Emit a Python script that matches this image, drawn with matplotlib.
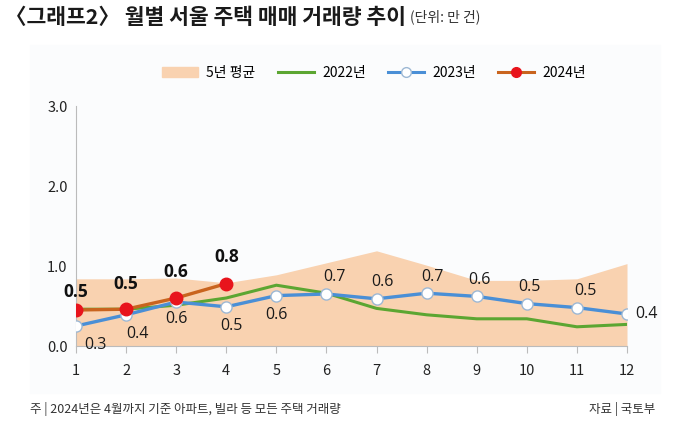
import matplotlib.pyplot as plt
from matplotlib.patches import Patch, Rectangle
from matplotlib.lines import Line2D

plt.rcParams['font.family'] = ['Noto Sans CJK KR', 'DejaVu Sans']

# data (unit: 10k transactions)
months = [1, 2, 3, 4, 5, 6, 7, 8, 9, 10, 11, 12]
avg5 = [0.84, 0.84, 0.85, 0.79, 0.89, 1.04, 1.19, 1.01, 0.82, 0.82, 0.84, 1.03]
y2022 = [0.46, 0.46, 0.51, 0.60, 0.76, 0.66, 0.47, 0.39, 0.34, 0.34, 0.24, 0.27]
y2023 = [0.25, 0.39, 0.55, 0.49, 0.63, 0.65, 0.59, 0.66, 0.62, 0.53, 0.48, 0.40]
m2024 = [1, 2, 3, 4]
y2024 = [0.45, 0.46, 0.60, 0.78]
lab2023 = ['0.3', '0.4', '0.6', '0.5', '0.6', '0.7', '0.6', '0.7', '0.6', '0.5', '0.5', '0.4']
lab2024 = ['0.5', '0.5', '0.6', '0.8']
yticks = [0, 1, 2, 3]
ytick_labels = ['0.0', '1.0', '2.0', '3.0']

c_avg = '#F9D2B0'
c_22 = '#5CA632'
c_23 = '#4A8FD6'
c_24 = '#C9641E'
c_dot = '#E8141C'

fig = plt.figure(figsize=(7, 4.21), dpi=100)
bg = Rectangle((30 / 700, 1 - 393 / 421), 630 / 700, 348 / 421,
               transform=fig.transFigure, color='#FBFCFD', zorder=-5)
fig.add_artist(bg)

ax = fig.add_axes([76 / 700, 1 - 346 / 421, 551 / 700, 240 / 421])
ax.set_zorder(2)
ax.patch.set_alpha(0)

ax.fill_between(months, 0, avg5, color=c_avg, lw=0, zorder=1)
ax.plot(months, y2022, color=c_22, lw=2.2, zorder=2)
ax.plot(months, y2023, color=c_23, lw=2.4, marker='o', ms=8,
        mfc='white', mec='#9DB8D4', mew=1, zorder=3)
ax.plot(m2024, y2024, color=c_24, lw=2.4, marker='o', ms=9,
        mfc=c_dot, mec=c_dot, zorder=4)

# 2023 value labels
offsets = [(14, -14), (8, -14), (0, -12), (4, -14), (0, -14), (6, 12),
           (4, 12), (4, 12), (2, 12), (2, 12), (6, 12), (14, 0)]
for m, v, t, (dx, dy) in zip(months, y2023, lab2023, offsets):
    ax.annotate(t, (m, v), xytext=(dx, dy), textcoords='offset points',
                ha='center', va='center', fontsize=11.5, family=['Open Sans', 'DejaVu Sans'],
                color='#1a1a1a', zorder=5, annotation_clip=False)

# 2024 value labels
offsets24 = [13, 18, 19, 19]
for m, v, t, dy in zip(m2024, y2024, lab2024, offsets24):
    ax.annotate(t, (m, v), xytext=(0, dy), textcoords='offset points',
                ha='center', va='center', fontsize=12.5, fontweight='bold',
                family=['Open Sans', 'DejaVu Sans'], color='#111111', zorder=5,
                annotation_clip=False)

ax.set_xlim(1, 12)
ax.set_ylim(0, 3)
ax.set_xticks(months)
ax.set_yticks(yticks)
ax.set_yticklabels(ytick_labels)
for s in ['top', 'right']:
    ax.spines[s].set_visible(False)
ax.spines['left'].set_color('#BBBBBB')
ax.spines['bottom'].set_color('#BBBBBB')
ax.tick_params(axis='x', length=5, color='#BBBBBB', labelsize=10.5, pad=8, labelcolor='#222222')
ax.tick_params(axis='y', length=0, labelsize=10.5, pad=6, labelcolor='#222222')

handles = [
    Patch(color=c_avg, label='5년 평균'),
    Line2D([], [], color=c_22, lw=2.2, label='2022년'),
    Line2D([], [], color=c_23, lw=2.2, marker='o', ms=7, mfc='white', mec='#9DB8D4', label='2023년'),
    Line2D([], [], color=c_24, lw=2.2, marker='o', ms=7, mfc=c_dot, mec=c_dot, label='2024년'),
]
fig.legend(handles=handles, loc='center', bbox_to_anchor=(374 / 700, 1 - 73 / 421),
           ncol=4, frameon=False, fontsize=10, handlelength=2.6, columnspacing=1.6,
           handletextpad=0.6)

fig.text(5 / 700, 1 - 17 / 421, '〈그래프2〉 월별 서울 주택 매매 거래량 추이',
         fontsize=15.5, fontweight='bold', va='center', ha='left', color='#1a1a1a')
fig.text(410 / 700, 1 - 17 / 421, '(단위: 만 건)', fontsize=10, va='center',
         ha='left', color='#333333')
fig.text(30 / 700, 1 - 409 / 421, '주 | 2024년은 4월까지 기준 아파트, 빌라 등 모든 주택 거래량',
         fontsize=9, va='center', ha='left', color='#333333')
fig.text(655 / 700, 1 - 409 / 421, '자료 | 국토부', fontsize=9, va='center',
         ha='right', color='#333333')

fig.savefig('out.png', dpi=100)
